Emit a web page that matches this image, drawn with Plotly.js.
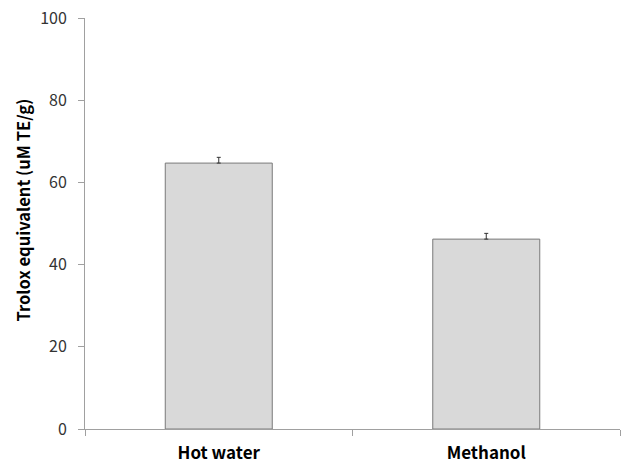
<!DOCTYPE html>
<html>
<head>
<meta charset="utf-8">
<script src="https://cdn.plot.ly/plotly-3.0.1.min.js"></script>
<style>html,body{margin:0;padding:0;background:#fff}#chart{width:623px;height:466px}</style>
</head>
<body>
<div id="chart"></div>
<script>
const categories = ["Hot water", "Methanol"];
const values = [64.7, 46.2];
const errors = [1.4, 1.4];
const yTicks = [0, 20, 40, 60, 80, 100];
const yTitle = 'Trolox equivalent (uM TE/g)';

const FONT = '"Noto Sans CJK KR", "Noto Sans", sans-serif';

const trace = {
  type: 'bar',
  x: categories,
  y: values,
  marker: {color: '#d9d9d9', line: {color: '#7a7a7a', width: 1}},
  error_y: {type: 'data', symmetric: false, array: errors, arrayminus: errors.map(() => 0),
            visible: true, color: '#333333', thickness: 1, width: 2},
  hoverinfo: 'none'
};

const layout = {
  width: 623, height: 466,
  margin: {l: 85, r: 3, t: 18, b: 37},
  paper_bgcolor: '#fff', plot_bgcolor: '#fff',
  showlegend: false,
  bargap: 0.6,
  xaxis: {
    type: 'category',
    showline: true, linecolor: '#a0a0a0', linewidth: 1,
    ticks: 'outside', tickson: 'boundaries', ticklen: 6, tickcolor: '#a0a0a0',
    showgrid: false, zeroline: false,
    ticklabelstandoff: 9,
    tickfont: {family: FONT, size: 17, color: '#000', weight: 'bold'},
    automargin: false
  },
  yaxis: {
    range: [0, 100],
    tickvals: yTicks,
    ticktext: yTicks.map(String),
    showline: true, linecolor: '#a0a0a0', linewidth: 1,
    ticks: 'outside', ticklen: 6, tickcolor: '#a0a0a0',
    showgrid: false, zeroline: false,
    ticklabelstandoff: 8,
    tickfont: {family: FONT, size: 16, color: '#333'},
    automargin: false
  },
  annotations: [{
    text: yTitle, textangle: -90, showarrow: false,
    xref: 'paper', yref: 'paper', x: -0.116, y: 0.534,
    xanchor: 'center', yanchor: 'middle',
    font: {family: FONT, size: 16.5, color: '#000', weight: 'bold'}
  }]
};

Plotly.newPlot('chart', [trace], layout, {displayModeBar: false, staticPlot: true});
</script>
</body>
</html>
